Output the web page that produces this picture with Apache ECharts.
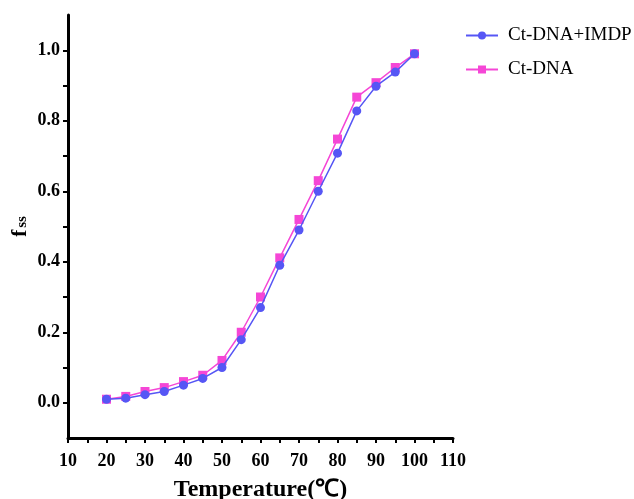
<!DOCTYPE html>
<html>
<head>
<meta charset="utf-8">
<script src="https://cdn.jsdelivr.net/npm/echarts@6/dist/echarts.min.js"></script>
<style>
  html, body { margin: 0; padding: 0; background: #fff; }
  #chart { width: 634px; height: 499px; }
</style>
</head>
<body>
<div id="chart"></div>
<script>
// temperature (°C)
const temps = [20, 25, 30, 35, 40, 45, 50, 55, 60, 65, 70, 75, 80, 85, 90, 95, 100]
// fraction single strand
const imdpVals = [0.010, 0.013, 0.023, 0.032, 0.050, 0.069, 0.100, 0.179, 0.270, 0.390, 0.490, 0.600, 0.708, 0.828, 0.898, 0.938, 0.990]
const dnaVals = [0.010, 0.018, 0.032, 0.043, 0.060, 0.078, 0.120, 0.200, 0.300, 0.411, 0.520, 0.630, 0.748, 0.867, 0.908, 0.951, 0.990]
const yTicks = [0, 0.1, 0.2, 0.3, 0.4, 0.5, 0.6, 0.7, 0.8, 0.9, 1.0]
const yLabels = [0, 0.2, 0.4, 0.6, 0.8, 1.0]
const xTicks = [10, 15, 20, 25, 30, 35, 40, 45, 50, 55, 60, 65, 70, 75, 80, 85, 90, 95, 100, 105, 110]
const xLabels = [10, 20, 30, 40, 50, 60, 70, 80, 90, 100, 110]

const chart = echarts.init(document.getElementById('chart'))
const font = 'Liberation Serif'
const pair = arr => temps.map((t, i) => [t, arr[i]])

const option = {
    animation: false,
    grid: { left: 68, right: 181, top: 15, bottom: 61, outerBoundsMode: 'none' },
    legend: {
        orient: 'vertical',
        left: 460,
        top: 21,
        itemWidth: 32,
        itemHeight: 10,
        itemGap: 15,
        textStyle: { fontFamily: font, fontSize: 19, color: '#000', padding: [0, 0, 0, 5] },
        data: ['Ct-DNA+IMDP', 'Ct-DNA']
    },
    xAxis: {
        type: 'value',
        min: 10,
        max: 110,
        name: 'Temperature(℃)',
        nameLocation: 'middle',
        nameGap: 40,
        nameMoveOverlap: false,
        nameTextStyle: { fontFamily: font, fontSize: 24, fontWeight: 'bold', color: '#000' },
        axisLine: { onZero: false, lineStyle: { color: '#000', width: 3 } },
        axisTick: { show: true, length: 5, lineStyle: { color: '#000', width: 2 }, customValues: xTicks },
        axisLabel: { fontFamily: font, fontSize: 18, fontWeight: 'bold', color: '#000', margin: 14, customValues: xLabels },
        splitLine: { show: false }
    },
    yAxis: {
        type: 'value',
        min: -0.1,
        max: 1.1,
        name: '{f|f}{s|ss}',
        nameLocation: 'middle',
        nameRotate: 90,
        nameGap: 37,
        nameMoveOverlap: false,
        nameTextStyle: {
            rich: {
                f: { fontFamily: font, fontSize: 21, fontWeight: 'bold', color: '#000' },
                s: { fontFamily: font, fontSize: 15, fontWeight: 'bold', color: '#000', padding: [3, 0, 0, 2] }
            }
        },
        axisLine: { show: true, lineStyle: { color: '#000', width: 3 } },
        axisTick: { show: true, length: 5, lineStyle: { color: '#000', width: 2 }, customValues: yTicks },
        axisLabel: {
            fontFamily: font, fontSize: 18, fontWeight: 'bold', color: '#000', margin: 8,
            customValues: yLabels,
            formatter: v => v.toFixed(1)
        },
        splitLine: { show: false }
    },
    series: [
        {
            name: 'Ct-DNA',
            type: 'line',
            data: pair(dnaVals),
            symbol: 'rect',
            symbolSize: 9,
            color: '#f546d6',
            lineStyle: { width: 1.5 },
            z: 2
        },
        {
            name: 'Ct-DNA+IMDP',
            type: 'line',
            data: pair(imdpVals),
            symbol: 'circle',
            symbolSize: 9,
            color: '#5656f5',
            lineStyle: { width: 1.5 },
            z: 3
        }
    ]
}
chart.setOption(option)
</script>
</body>
</html>
